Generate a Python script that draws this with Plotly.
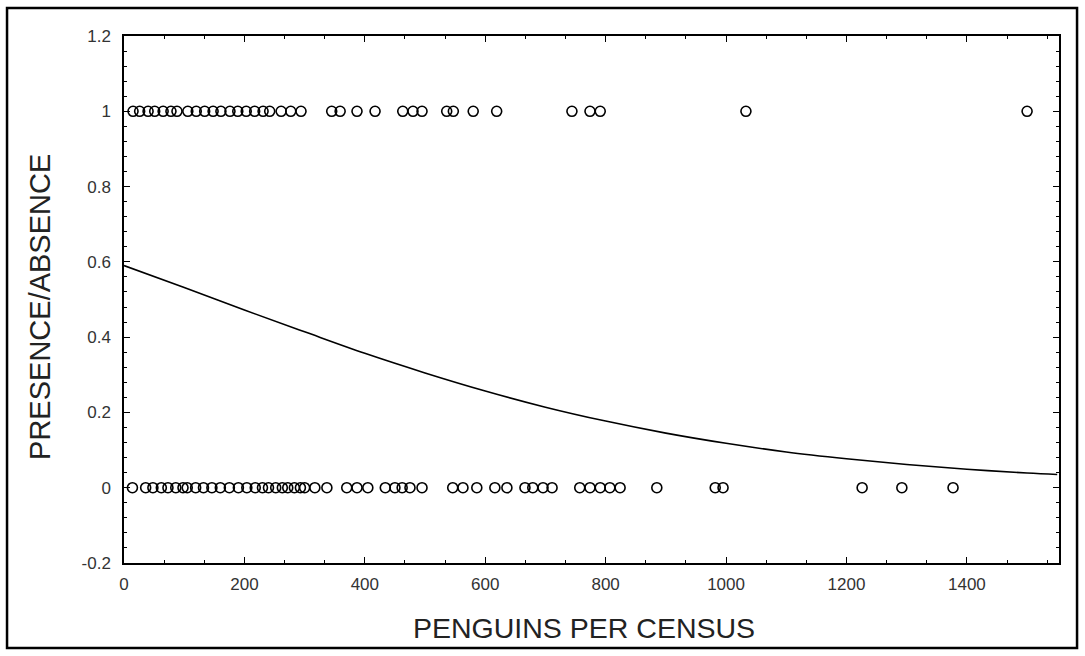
import plotly.graph_objects as go

# Presence (y=1) observations: penguins per census
presence_x = [15, 26, 40, 51, 65, 78, 88, 106, 120, 134, 148, 161, 176, 189, 203,
              217, 231, 242, 261, 277, 294, 345, 359, 387, 417, 463, 480, 495,
              536, 547, 580, 619, 744, 774, 791, 1033, 1500]
# Absence (y=0) observations
absence_x = [14, 36, 48, 62, 73, 86, 98, 105, 119, 132, 146, 160, 175, 190, 204,
             218, 230, 240, 252, 263, 272, 283, 293, 300, 317, 337, 370, 387, 405,
             434, 450, 462, 475, 495, 546, 563, 586, 616, 636, 666, 679, 696, 711,
             757, 774, 791, 807, 824, 885, 982, 995, 1226, 1292, 1377]
# Fitted curve
curve_x = [0, 100, 200, 300, 400, 500, 600, 700, 800, 900, 1000, 1100, 1200,
           1300, 1400, 1500, 1550]
curve_y = [0.59, 0.532, 0.472, 0.414, 0.357, 0.305, 0.257, 0.214, 0.177, 0.145,
           0.118, 0.095, 0.077, 0.0615, 0.049, 0.039, 0.035]

x_ticks = [0, 200, 400, 600, 800, 1000, 1200, 1400]
y_ticks = [-0.2, 0, 0.2, 0.4, 0.6, 0.8, 1, 1.2]
y_tick_text = ["-0.2", "0", "0.2", "0.4", "0.6", "0.8", "1", "1.2"]
x_title = "PENGUINS PER CENSUS"
y_title = "PRESENCE/ABSENCE"

marker = dict(symbol="circle-open", size=10, color="black", line=dict(width=1.6, color="black"))

fig = go.Figure()
fig.add_trace(go.Scatter(x=presence_x, y=[1] * len(presence_x), mode="markers",
                         marker=marker, showlegend=False))
fig.add_trace(go.Scatter(x=absence_x, y=[0] * len(absence_x), mode="markers",
                         marker=marker, showlegend=False))
fig.add_trace(go.Scatter(x=curve_x, y=curve_y, mode="lines", line_shape="spline",
                         line=dict(color="black", width=1.6), showlegend=False))

font = "Liberation Sans, Arial, sans-serif"
tick_color = "#333333"
fig.update_layout(
    width=1085, height=656,
    margin=dict(l=124, r=26, t=36, b=93),
    paper_bgcolor="white", plot_bgcolor="white",
    font=dict(family=font, color="black"),
    xaxis=dict(
        range=[0, 1553], tickvals=x_ticks, ticktext=[str(v) for v in x_ticks],
        ticks="inside", ticklen=6, tickwidth=1.2, tickcolor="black",
        showline=True, linecolor="black", linewidth=1.5, mirror="allticks",
        showgrid=False, zeroline=False, ticklabelstandoff=5,
        tickfont=dict(size=17, family=font, color=tick_color),
        minor=dict(dtick=200 / 3, tick0=0, ticks="inside", ticklen=3,
                   tickcolor="black", showgrid=False),
    ),
    yaxis=dict(
        range=[-0.2, 1.2], tickvals=y_ticks, ticktext=y_tick_text,
        ticks="inside", ticklen=6, tickwidth=1.2, tickcolor="black",
        showline=True, linecolor="black", linewidth=1.5, mirror="allticks",
        showgrid=False, zeroline=False, ticklabelstandoff=8,
        tickfont=dict(size=17, family=font, color=tick_color),
        minor=dict(dtick=0.04, tick0=0, ticks="inside", ticklen=3,
                   tickcolor="black", showgrid=False),
    ),
    annotations=[
        dict(text=x_title, xref="paper", yref="paper", x=0.492, y=-0.1233,
             xanchor="center", yanchor="middle", showarrow=False,
             font=dict(size=28.5, family=font, color="#222222")),
        dict(text=y_title, xref="paper", yref="paper", x=-0.0898, y=0.486,
             xanchor="center", yanchor="middle", showarrow=False, textangle=-90,
             font=dict(size=29, family=font, color="#222222")),
    ],
    shapes=[dict(type="rect", xref="paper", yref="paper",
                 x0=-0.1251, x1=1.0193, y0=-0.1613, y1=1.0531,
                 line=dict(color="black", width=2.5), layer="below")],
)

fig.write_html("out.html")
